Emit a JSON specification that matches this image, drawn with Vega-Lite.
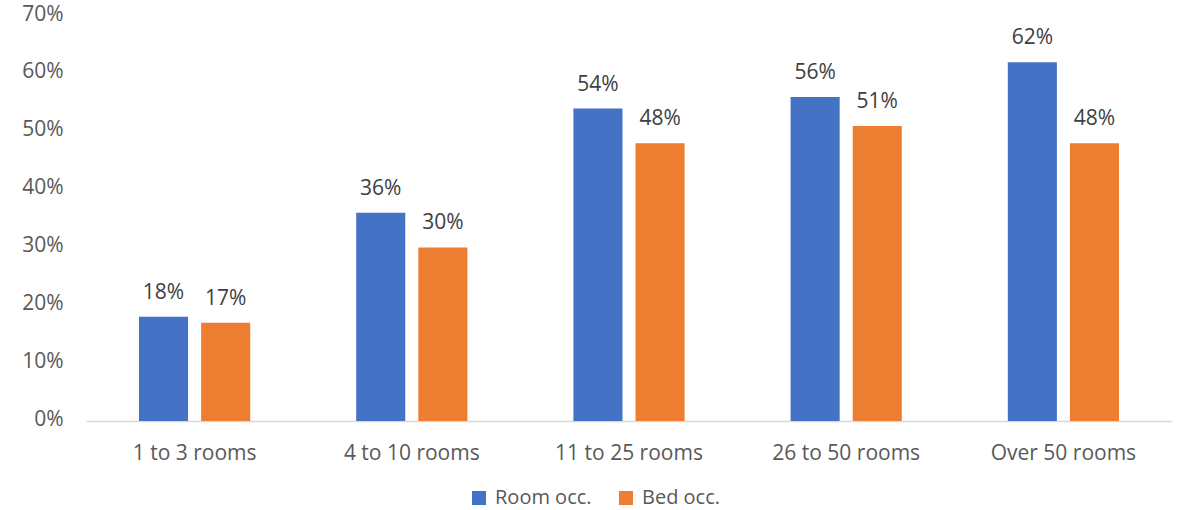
{
  "$schema": "https://vega.github.io/schema/vega-lite/v6.json",
  "autosize": "none",
  "width": 1086,
  "height": 405,
  "padding": {"left": 86, "top": 16, "right": 6, "bottom": 89},
  "background": "white",
  "config": {
    "view": {"stroke": null},
    "font": "Open Sans",
    "text": {"font": "Open Sans"}
  },
  "data": {
    "values": [
      {"size": "1 to 3 rooms", "series": "Room occ.", "value": 0.18},
      {"size": "1 to 3 rooms", "series": "Bed occ.", "value": 0.17},
      {"size": "4 to 10 rooms", "series": "Room occ.", "value": 0.36},
      {"size": "4 to 10 rooms", "series": "Bed occ.", "value": 0.30},
      {"size": "11 to 25 rooms", "series": "Room occ.", "value": 0.54},
      {"size": "11 to 25 rooms", "series": "Bed occ.", "value": 0.48},
      {"size": "26 to 50 rooms", "series": "Room occ.", "value": 0.56},
      {"size": "26 to 50 rooms", "series": "Bed occ.", "value": 0.51},
      {"size": "Over 50 rooms", "series": "Room occ.", "value": 0.62},
      {"size": "Over 50 rooms", "series": "Bed occ.", "value": 0.48}
    ]
  },
  "encoding": {
    "x": {
      "field": "size", "type": "nominal", "sort": null,
      "scale": {"paddingInner": 0.488, "paddingOuter": 0.244},
      "axis": {
        "title": null, "labelAngle": 0, "ticks": false,
        "domainColor": "#d9d9d9", "domainWidth": 1.5,
        "labelFontSize": 21, "labelColor": "#595959", "labelPadding": 21,
        "labelFont": "Open Sans"
      }
    },
    "xOffset": {
      "field": "series", "type": "nominal",
      "sort": ["Room occ.", "Bed occ."],
      "scale": {"paddingInner": 0.21, "paddingOuter": 0}
    },
    "y": {
      "field": "value", "type": "quantitative",
      "scale": {"domain": [0, 0.7]},
      "axis": {
        "title": null, "format": ".0%", "values": [0, 0.1, 0.2, 0.3, 0.4, 0.5, 0.6, 0.7],
        "grid": false, "domain": false, "ticks": false, "labelOverlap": false,
        "labelFontSize": 21, "labelColor": "#595959", "labelPadding": 23,
        "labelFont": "Open Sans", "labelOffset": -2
      }
    }
  },
  "layer": [
    {
      "mark": {"type": "bar"},
      "encoding": {
        "color": {
          "field": "series", "type": "nominal",
          "sort": ["Room occ.", "Bed occ."],
          "scale": {"domain": ["Room occ.", "Bed occ."], "range": ["#4472C4", "#ED7D31"]},
          "legend": {
            "title": null, "orient": "none", "direction": "horizontal",
            "legendX": 383, "legendY": 472,
            "symbolType": "square", "symbolSize": 196, "symbolStrokeWidth": 0,
            "labelFontSize": 20, "labelColor": "#595959", "labelFont": "Open Sans",
            "labelOffset": 6, "columnPadding": 24
          }
        }
      }
    },
    {
      "mark": {"type": "text", "dy": -18, "fontSize": 21, "color": "#404040", "baseline": "alphabetic"},
      "encoding": {
        "text": {"field": "value", "type": "quantitative", "format": ".0%"}
      }
    }
  ]
}
